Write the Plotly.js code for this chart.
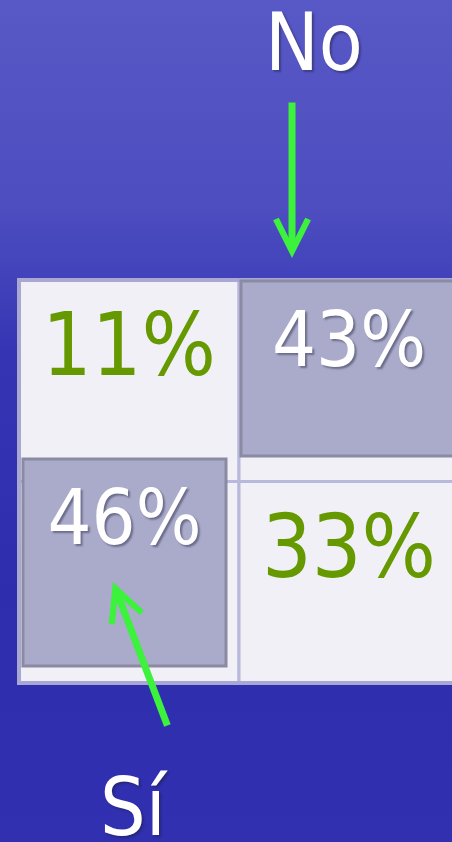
<!DOCTYPE html>
<html>
<head>
<meta charset="utf-8">
<script src="https://cdn.plot.ly/plotly-3.0.1.min.js"></script>
<style>
  html, body { margin: 0; padding: 0; }
  body {
    width: 452px; height: 842px; overflow: hidden;
    background: linear-gradient(180deg, #5858c6 0%, #4d4dc0 25%, #3535b4 42%, #2d2dae 70%, #3030b0 100%);
  }
</style>
</head>
<body>
<div id="chart" style="width:452px;height:842px;"></div>
<script>
// 2x2 table of answers (rows x columns)
const rowIdx = [0, 1];
const colIdx = [0, 1];
const cellValues = [[11, 43], [46, 33]];
const highlighted = [[false, true], [true, false]];
// which cell each label points at: [row, col]
const answerLabels = ['No', 'Sí'];
const answerCells = [[0, 1], [1, 0]];

const FONT = '"DejaVu Sans Condensed", "DejaVu Sans", Verdana, sans-serif';
const GREEN = '#669900';
const SHADOW = '2px 2px 2px rgba(30,30,60,0.45)';

// highlight box geometry, relative to the cell centre (cell = 1 x 1)
function boxFor(r, c) {
    if (r === 0) return { x0: c - 0.491, x1: c + 0.491, y0: r - 0.495, y1: r + 0.373 };
    return { x0: c - 0.482, x1: c + 0.441, y0: r - 0.612, y1: r + 0.416 };
}

const shapes = [];
const greenX = [], greenY = [], greenT = [];
const whiteX = [], whiteY = [], whiteT = [];

rowIdx.forEach(r => {
    colIdx.forEach(c => {
        shapes.push({
            type: 'rect', layer: 'below', xref: 'x', yref: 'y',
            x0: c - 0.5, x1: c + 0.5, y0: r - 0.5, y1: r + 0.5,
            fillcolor: '#f0f0f6', line: { color: '#b8b8dc', width: 3 }
        });
    });
});
// outer frame
shapes.push({
    type: 'rect', layer: 'below', xref: 'x', yref: 'y',
    x0: -0.5, x1: 1.5, y0: -0.5, y1: 1.5,
    fillcolor: 'rgba(0,0,0,0)', line: { color: '#a8a8d2', width: 4 }
});

rowIdx.forEach(r => {
    colIdx.forEach(c => {
        const v = cellValues[r][c] + '%';
        if (highlighted[r][c]) {
            const b = boxFor(r, c);
            shapes.push({
                type: 'rect', layer: 'below', xref: 'x', yref: 'y',
                x0: b.x0, x1: b.x1, y0: b.y0, y1: b.y1,
                fillcolor: '#aaaacb', line: { color: '#8a8aa2', width: 3 }
            });
            whiteX.push((b.x0 + b.x1) / 2);
            whiteY.push(b.y0 + 0.325);
            whiteT.push(v);
        } else {
            greenX.push(c);
            greenY.push(r - 0.5 + 0.365);
            greenT.push(v);
        }
    });
});

const data = [
    {
        x: greenX, y: greenY, text: greenT,
        type: 'scatter', mode: 'text', textposition: 'middle center',
        textfont: { family: FONT, size: 87, color: GREEN },
        hoverinfo: 'skip', showlegend: false
    },
    {
        x: whiteX, y: whiteY, text: whiteT,
        type: 'scatter', mode: 'text', textposition: 'middle center',
        textfont: { family: FONT, size: 77, color: '#ffffff', shadow: SHADOW },
        hoverinfo: 'skip', showlegend: false
    }
];

// arrows + labels pointing at the highlighted cells
const arrowTips = [[-0.259, -0.109], [-0.073, 0.499]];   // offset from cell centre
const arrowTails = [[0, -157], [55, 145]];              // pixels from tip
const labelPos = [[-0.157, -1.179], [0.023, 0.62]];      // offset from cell centre
const annotations = [];
answerLabels.forEach((lab, i) => {
    const [r, c] = answerCells[i];
    annotations.push({
        x: c + arrowTips[i][0], y: r - 0.5 + arrowTips[i][1],
        xref: 'x', yref: 'y', text: '', showarrow: true,
        ax: arrowTails[i][0], ay: arrowTails[i][1],
        arrowcolor: '#3cf23c', arrowwidth: 7, arrowhead: 5, arrowsize: 0.9
    });
    annotations.push({
        x: c + labelPos[i][0], y: r + 0.5 + labelPos[i][1] - (r === 0 ? 1 : 0),
        xref: 'x', yref: 'y', text: lab, showarrow: false,
        font: { family: FONT, size: 80, color: '#ffffff', shadow: SHADOW }
    });
});

const layout = {
    width: 452, height: 842,
    margin: { l: 0, r: 0, t: 0, b: 0 },
    paper_bgcolor: 'rgba(0,0,0,0)',
    plot_bgcolor: 'rgba(0,0,0,0)',
    xaxis: { range: [-0.5864, 1.4682], visible: false, fixedrange: true },
    yaxis: { range: [2.2891, -1.8896], visible: false, fixedrange: true },
    shapes: shapes,
    annotations: annotations
};

Plotly.newPlot('chart', data, layout, { staticPlot: true, displayModeBar: false });
</script>
</body>
</html>
